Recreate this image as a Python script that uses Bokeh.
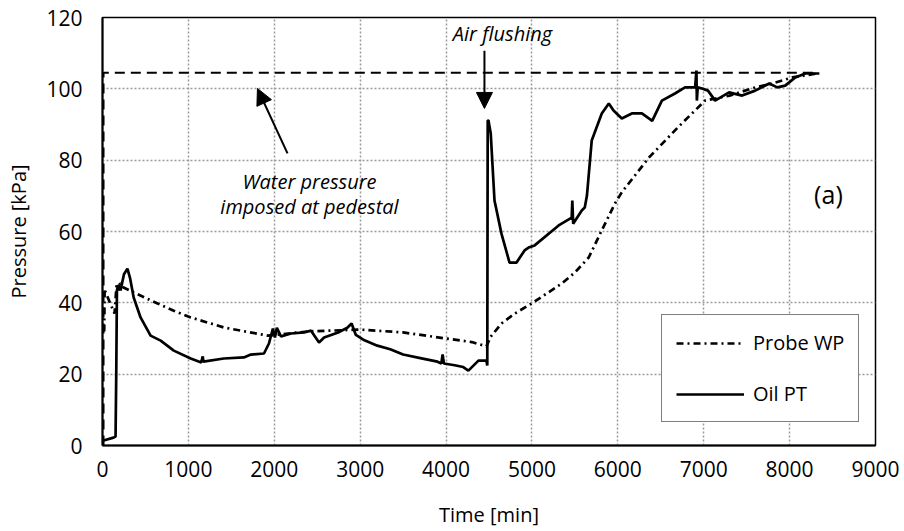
from bokeh.plotting import figure
from bokeh.models import Range1d, FixedTicker, Label, Arrow, NormalHead, Legend, LegendItem
from bokeh.embed import file_html
from bokeh.resources import INLINE

# ---- data ----
x_ticks = [0, 1000, 2000, 3000, 4000, 5000, 6000, 7000, 8000, 9000]
y_ticks = [0, 20, 40, 60, 80, 100, 120]

water_t = [12, 12, 8300]
water_p = [0, 104.5, 104.5]

probe_t = [20, 25, 35, 140, 165, 185, 205, 245, 400, 642, 830, 1027, 1412, 1926, 2400,
           3000, 3500, 4000, 4300, 4470, 4520, 4645, 4800, 4996, 5346, 5500, 5661, 5813,
           5965, 6046, 6361, 6700, 7015, 7300, 7599, 7800, 8031, 8323]
probe_p = [32, 44, 43, 37, 45.5, 43.5, 45.5, 44.3, 42.5, 39.8, 37.8, 35.9, 33.1, 30.8, 32,
           32.5, 31.7, 30, 29, 27.8, 30.5, 34.2, 37, 39.8, 45.4, 48.5, 52.7, 60.3,
           67.8, 71, 80.7, 89.2, 96.7, 98.1, 100.4, 101.5, 103.2, 104.3]

oil_t = [12, 128, 152, 160, 168, 185, 210, 250, 290, 320, 363, 443, 560, 677, 830, 1027,
         1150, 1167, 1175, 1412, 1646, 1727, 1880, 1938, 1984, 2008, 2030, 2078, 2195,
         2346, 2428, 2521, 2580, 2743, 2850, 2900, 2950, 3050, 3200, 3350, 3500, 3700,
         3900, 3945, 3960, 3975, 4100, 4200, 4260, 4377, 4470, 4480, 4485, 4494, 4520,
         4564, 4645, 4739, 4821, 4914, 4961, 5031, 5311, 5463, 5470, 5480, 5580, 5615,
         5640, 5696, 5813, 5895, 5950, 6046, 6163, 6280, 6361, 6400, 6513, 6665, 6782,
         6900, 6915, 6920, 6930, 6980, 7050, 7132, 7295, 7447, 7599, 7762, 7856, 7949,
         8066, 8183, 8346]
oil_p = [1.4, 2.2, 2.5, 20, 43.5, 45, 43.5, 48, 49.6, 47, 41.5, 35.9, 30.8, 29.4, 26.6, 24.4,
         23.3, 25, 23.5, 24.4, 24.7, 25.5, 25.8, 28.6, 32.8, 30.3, 33, 30.6, 31.4,
         31.7, 32.2, 28.9, 30.3, 31.7, 33, 34.2, 31, 29.5, 28, 27, 25.5, 24.5,
         23.5, 23, 25.5, 23, 22.5, 22, 21, 23.8, 23.8, 22.4, 91.1, 91.1, 87.5,
         68.7, 59.4, 51.3, 51.3, 54.7, 55.5, 56.1, 61.7, 63.9, 68.7, 62.2, 65.9, 66.7,
         70, 85.5, 93.1, 95.9, 93.9, 91.7, 93.1, 93.1, 91.7, 91, 96.7, 98.7, 100.4,
         100.4, 105.1, 96.7, 100.4, 100.1, 99.5, 96.7, 99, 98.1, 99.5, 101.5, 100.4, 100.9,
         103.2, 104.3, 104.3]

FONT = "Open Sans"

p = figure(width=904, height=531, output_backend="svg", toolbar_location=None,
           x_range=Range1d(0, 9000), y_range=Range1d(0, 120),
           min_border_left=102, min_border_right=29, min_border_top=17, min_border_bottom=86,
           x_axis_label="Time [min]", y_axis_label="Pressure [kPa]")
p.background_fill_color = "white"
p.border_fill_color = "white"
p.outline_line_color = "black"
p.outline_line_width = 1.5

for ax, ticks in ((p.xaxis, x_ticks), (p.yaxis, y_ticks)):
    ax.ticker = FixedTicker(ticks=ticks)
    ax.axis_line_color = "black"
    ax.axis_line_width = 2
    ax.major_tick_line_color = None
    ax.minor_tick_line_color = None
    ax.major_tick_in = 0
    ax.major_tick_out = 0
    ax.major_label_text_font = FONT
    ax.major_label_text_font_size = "21px"
    ax.major_label_text_color = "black"
    ax.axis_label_text_font = FONT
    ax.axis_label_text_font_size = "20px"
    ax.axis_label_text_font_style = "normal"
    ax.axis_label_text_color = "black"

p.xaxis.major_label_standoff = 15
p.yaxis.major_label_standoff = 20
p.xaxis.axis_label_standoff = 21
p.yaxis.axis_label_standoff = 11

for g in (p.xgrid, p.ygrid):
    g.grid_line_color = "#9a9a9a"
    g.grid_line_dash = "2 2"
    g.grid_line_width = 1.5
p.xgrid.ticker = FixedTicker(ticks=x_ticks)
p.ygrid.ticker = FixedTicker(ticks=y_ticks)

p.line(water_t, water_p, line_color="black", line_width=2, line_dash="10 6")
r_probe = p.line(probe_t, probe_p, line_color="black", line_width=2.7, line_dash="7 4 2 4")
r_oil = p.line(oil_t, oil_p, line_color="black", line_width=2.7)

legend = Legend(items=[LegendItem(label="Probe WP", renderers=[r_probe]),
                       LegendItem(label="Oil PT", renderers=[r_oil])],
                location=(559, 23))
legend.border_line_color = "black"
legend.border_line_width = 1.5
legend.padding = 14
legend.spacing = 24
legend.glyph_width = 68
legend.glyph_height = 20
legend.label_height = 20
legend.label_standoff = 9
legend.margin = 0
legend.label_text_font = FONT
legend.label_text_font_size = "20px"
legend.label_text_color = "black"
legend.background_fill_alpha = 1
p.add_layout(legend)

p.add_layout(Arrow(end=NormalHead(size=16, fill_color="black", line_color="black"),
                   x_start=4447, y_start=110.7, x_end=4447, y_end=94.5,
                   line_color="black", line_width=2))
p.add_layout(Arrow(end=NormalHead(size=16, fill_color="black", line_color="black"),
                   x_start=2154, y_start=81.9, x_end=1804, y_end=100.1,
                   line_color="black", line_width=2))

for txt, x, y, size in (("Air flushing", 4657, 115.5, "20px"),
                        ("Water pressure", 2410, 74, "20px"),
                        ("imposed at pedestal", 2410, 67, "20px"),
                        ("(a)", 8452, 70.6, "25px")):
    p.add_layout(Label(x=x, y=y, text=txt, text_font=FONT, text_font_size=size,
                       text_font_style="normal" if txt == "(a)" else "italic",
                       text_align="center", text_baseline="middle", text_color="black"))

open("out.html", "w").write(file_html(p, INLINE))
